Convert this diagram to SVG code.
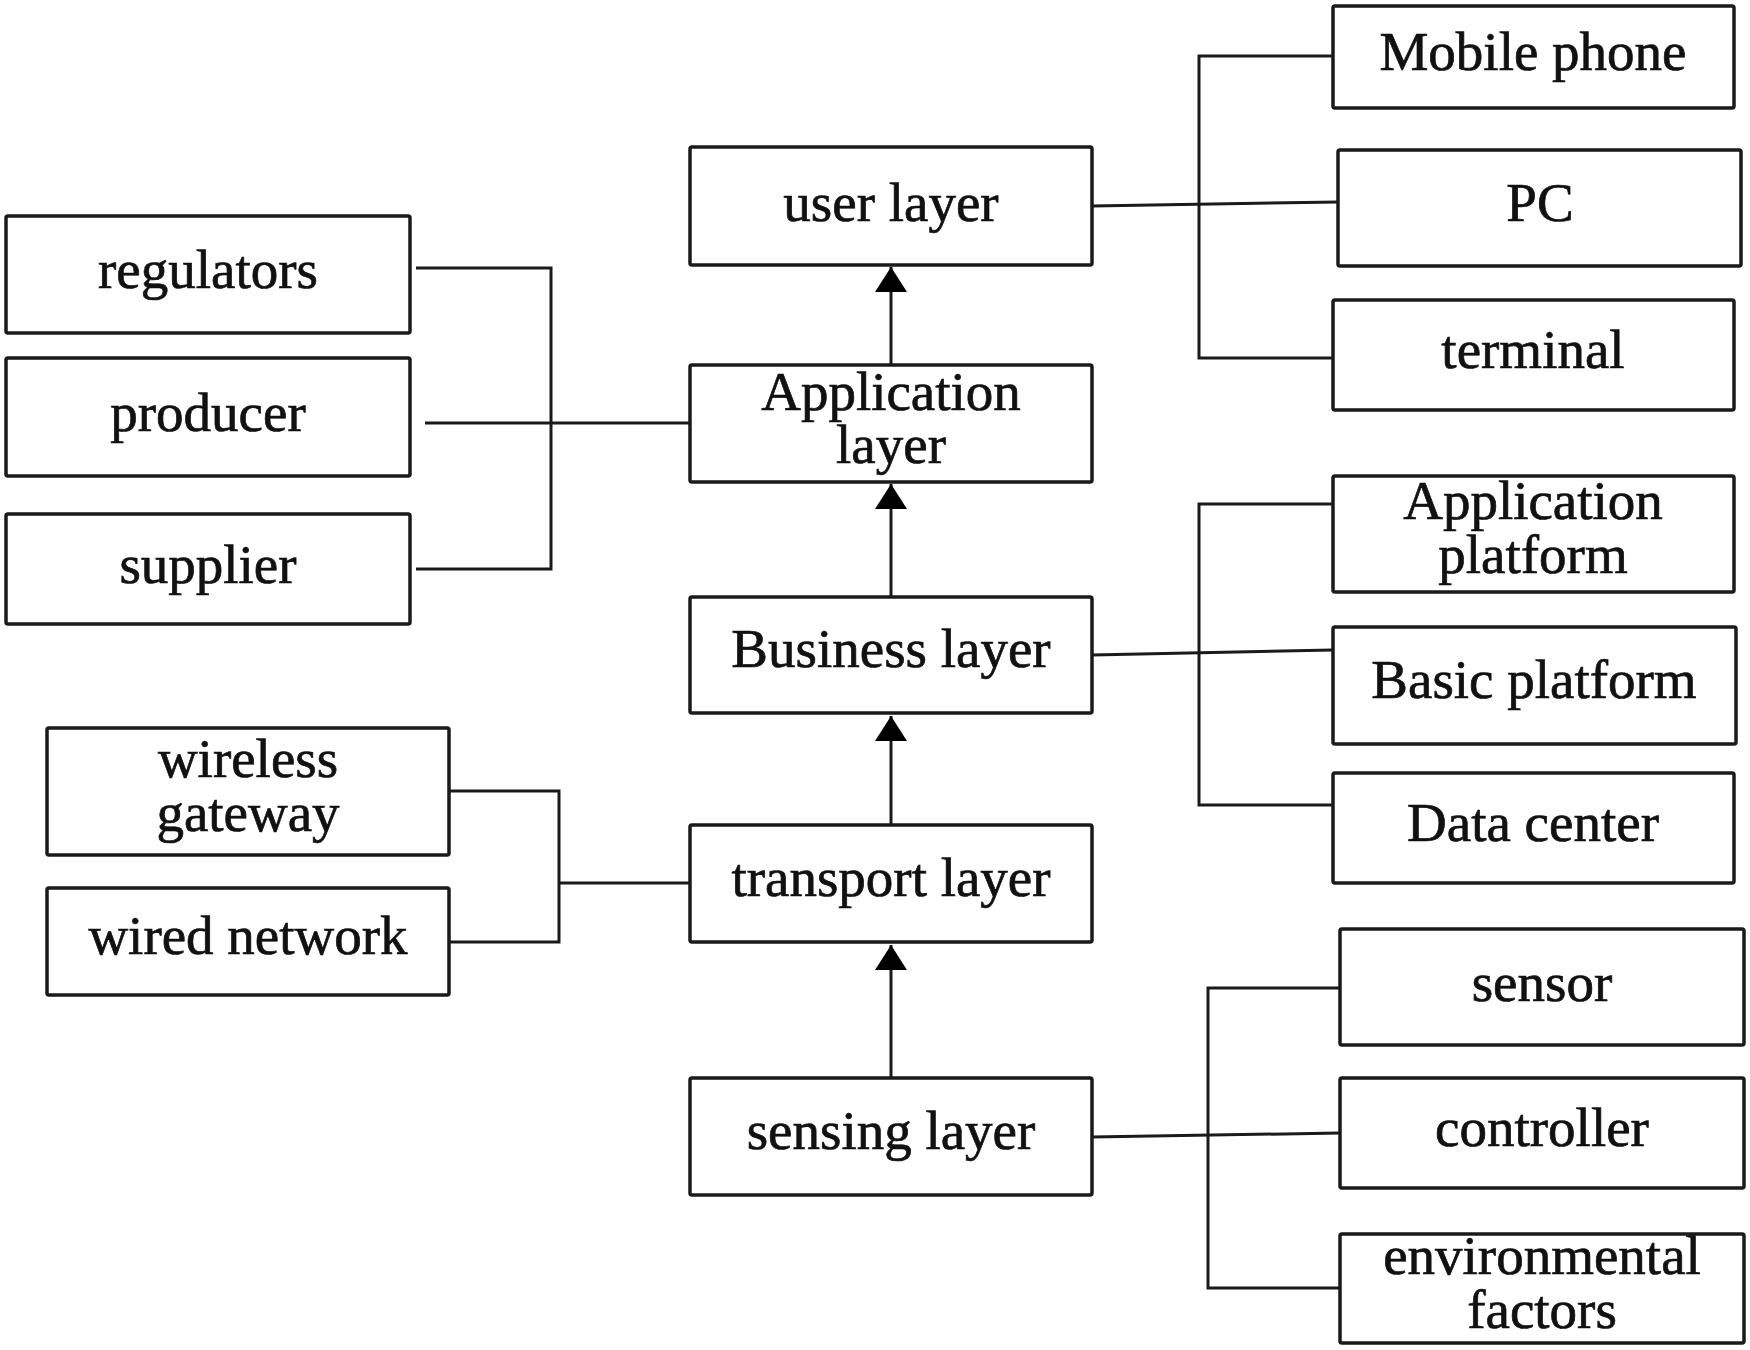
<svg xmlns="http://www.w3.org/2000/svg" width="1750" height="1350" viewBox="0 0 1750 1350">
<style>
.box{fill:#fff;stroke:#1a1a1a;stroke-width:3.5}
.t{font-family:"Liberation Serif","Times New Roman",serif;font-size:55px;fill:#111;stroke:#111;stroke-width:0.7;text-anchor:middle}
.ln{fill:none;stroke:#1a1a1a;stroke-width:3}
</style>
<defs>
<marker id="ah" markerUnits="userSpaceOnUse" markerWidth="26" markerHeight="32" refX="25" refY="16" orient="auto" viewBox="0 0 26 32">
<path d="M0,0 L25,16 L0,32 z" fill="#000"/>
</marker>
</defs>
<rect width="1750" height="1350" fill="#fff"/>
<g id="connectors">
<line class="ln" x1="891" y1="365" x2="891" y2="267" marker-end="url(#ah)"/>
<line class="ln" x1="891" y1="597" x2="891" y2="484" marker-end="url(#ah)"/>
<line class="ln" x1="891" y1="825" x2="891" y2="716" marker-end="url(#ah)"/>
<line class="ln" x1="891" y1="1078" x2="891" y2="945" marker-end="url(#ah)"/>
<path class="ln" d="M416,268 H551 V569 H416"/>
<path class="ln" d="M425,423 H690"/>
<path class="ln" d="M1333,56 H1199 V358 H1333"/>
<path class="ln" d="M1092,206 L1338,202"/>
<path class="ln" d="M1333,504 H1199 V805 H1333"/>
<path class="ln" d="M1092,655 L1333,650"/>
<path class="ln" d="M449,791 H559 V942 H449"/>
<path class="ln" d="M559,883 H690"/>
<path class="ln" d="M1340,988 H1208 V1288 H1340"/>
<path class="ln" d="M1092,1137 L1340,1133"/>
</g>
<g id="user-layer"><rect class="box" x="690" y="147" width="402" height="118" rx="2"/><text class="t" x="891" y="221">user layer</text></g>
<g id="application-layer"><rect class="box" x="690" y="365" width="402" height="117" rx="2"/><text class="t" x="891" y="410">Application</text><text class="t" x="891" y="463">layer</text></g>
<g id="business-layer"><rect class="box" x="690" y="597" width="402" height="116" rx="2"/><text class="t" x="891" y="667">Business layer</text></g>
<g id="transport-layer"><rect class="box" x="690" y="825" width="402" height="117" rx="2"/><text class="t" x="891" y="896">transport layer</text></g>
<g id="sensing-layer"><rect class="box" x="690" y="1078" width="402" height="117" rx="2"/><text class="t" x="891" y="1149">sensing layer</text></g>
<g id="regulators"><rect class="box" x="6" y="216" width="404" height="117" rx="2"/><text class="t" x="208" y="288">regulators</text></g>
<g id="producer"><rect class="box" x="6" y="358" width="404" height="118" rx="2"/><text class="t" x="208" y="431">producer</text></g>
<g id="supplier"><rect class="box" x="6" y="514" width="404" height="110" rx="2"/><text class="t" x="208" y="583">supplier</text></g>
<g id="wireless-gateway"><rect class="box" x="47" y="728" width="402" height="127" rx="2"/><text class="t" x="248" y="777">wireless</text><text class="t" x="248" y="831">gateway</text></g>
<g id="wired-network"><rect class="box" x="47" y="888" width="402" height="107" rx="2"/><text class="t" x="248" y="954">wired network</text></g>
<g id="mobile-phone"><rect class="box" x="1333" y="6" width="401" height="102" rx="2"/><text class="t" x="1533" y="70">Mobile phone</text></g>
<g id="pc"><rect class="box" x="1338" y="150" width="403" height="116" rx="2"/><text class="t" x="1540" y="221">PC</text></g>
<g id="terminal"><rect class="box" x="1333" y="300" width="401" height="110" rx="2"/><text class="t" x="1533" y="368">terminal</text></g>
<g id="application-platform"><rect class="box" x="1333" y="476" width="401" height="116" rx="2"/><text class="t" x="1533" y="519">Application</text><text class="t" x="1533" y="573">platform</text></g>
<g id="basic-platform"><rect class="box" x="1333" y="627" width="403" height="117" rx="2"/><text class="t" x="1534" y="698">Basic platform</text></g>
<g id="data-center"><rect class="box" x="1333" y="773" width="401" height="110" rx="2"/><text class="t" x="1533" y="841">Data center</text></g>
<g id="sensor"><rect class="box" x="1340" y="929" width="404" height="116" rx="2"/><text class="t" x="1542" y="1001">sensor</text></g>
<g id="controller"><rect class="box" x="1340" y="1078" width="404" height="110" rx="2"/><text class="t" x="1542" y="1146">controller</text></g>
<g id="environmental-factors"><rect class="box" x="1340" y="1234" width="404" height="109" rx="2"/><text class="t" x="1542" y="1274">environmental</text><text class="t" x="1542" y="1328">factors</text></g>
</svg>
